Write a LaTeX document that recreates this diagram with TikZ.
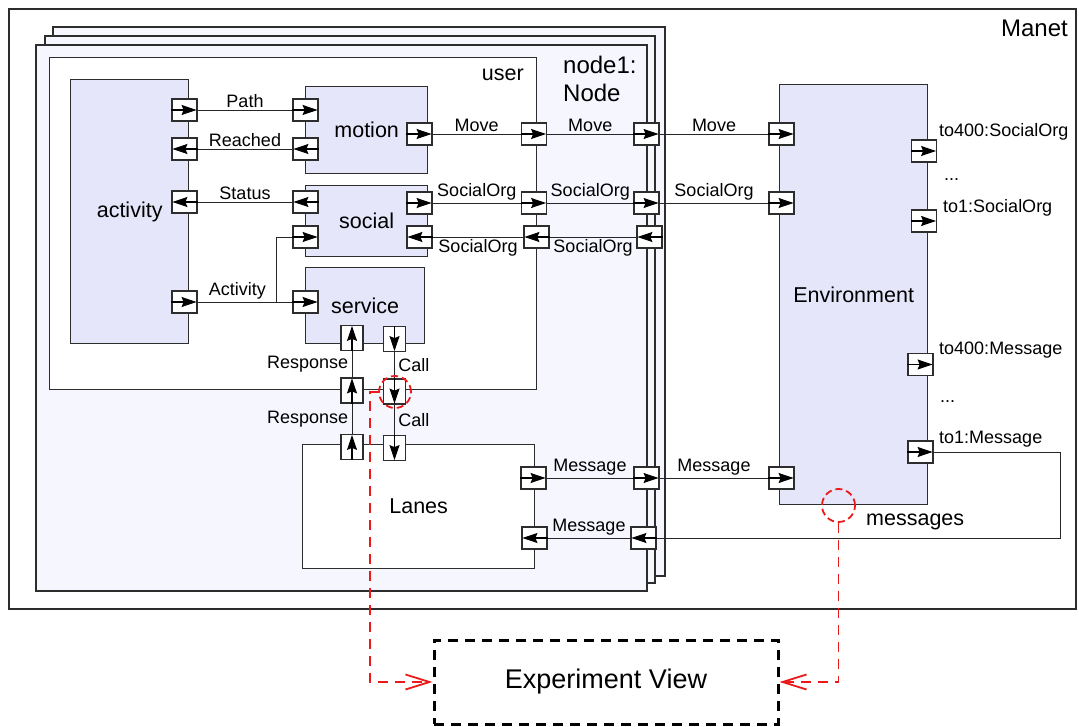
\documentclass[tikz,border=0pt]{standalone}
\usepackage{fontspec}
\setmainfont{Liberation Sans}
\usetikzlibrary{arrows.meta}
\definecolor{boxfill}{RGB}{230,230,250}
\definecolor{nodefill}{RGB}{246,246,255}
\definecolor{edgegray}{RGB}{45,45,45}
\definecolor{markred}{RGB}{235,25,25}
\begin{document}
\begin{tikzpicture}[x=1pt, y=-1pt, font=\fontsize{18}{20}\selectfont]
	\useasboundingbox (0,0) rectangle (1079,727);
	\tikzset{
		blk/.style={draw=edgegray, line width=1.3pt, fill=boxfill, anchor=north west, inner sep=0pt, font=\fontsize{21.5}{24}\selectfont},
		porttip/.style={draw=black, line width=1.1pt, shorten >=1pt, -{Stealth[length=15pt,width=10pt,inset=2pt]}},
		port/.style={draw=edgegray, fill=white, line width=1.2pt, inner sep=0pt, minimum width=25pt, minimum height=22pt},
		vport/.style={port, minimum width=22pt, minimum height=25pt},
		wire/.style={draw=black!85, line width=0.9pt},
		lbl/.style={inner sep=2pt},
		side/.style={anchor=base west, inner sep=0pt},
		redmark/.style={circle, draw=markred, line width=1.8pt, dash pattern=on 7pt off 4pt, inner sep=0pt},
		redlink/.style={draw=markred, line width=1.8pt, dash pattern=on 10pt off 7pt, -{Straight Barb[length=24pt,width=15pt]}},
		viewbox/.style={draw=black, line width=3pt, dash pattern=on 10pt off 7pt, minimum width=344pt, minimum height=84pt, font=\fontsize{27}{30}\selectfont}
	}
	\draw[edgegray, line width=1.2pt] (9,9) rectangle (1076,609);
	\node[anchor=east, inner sep=0pt, font=\fontsize{24}{28}\selectfont] (manetName) at (1068,28) {Manet};
	\draw[edgegray, line width=1.2pt, fill=nodefill] (53,27) rectangle (665,576);
	\draw[edgegray, line width=1.2pt, fill=nodefill] (45,36) rectangle (655,583);
	\draw[edgegray, line width=1.2pt, fill=nodefill] (36,45) rectangle (647,591);
	\node[anchor=north west, align=left, inner sep=0pt, font=\fontsize{24}{28}\selectfont] (nodeName) at (563,56) {node1:\\Node};
	\node[blk, fill=white, minimum width=487pt, minimum height=332pt] (user) at (49,57) {};
	\node[anchor=east, inner sep=0pt, font=\fontsize{21.5}{24}\selectfont] (userName) at (524,75) {user};
	\node[blk, minimum width=118pt, minimum height=264pt] (activity) at (70,79) {activity};
	\node[blk, minimum width=122pt, minimum height=87pt] (motion) at (305,86) {motion};
	\node[blk, minimum width=122pt, minimum height=71pt] (social) at (305,185) {social};
	\node[blk, minimum width=119pt, minimum height=76pt] (service) at (305,267) {service};
	\node[blk, fill=white, minimum width=232pt, minimum height=124pt] (lanes) at (302,444) {Lanes};
	\node[blk, minimum width=148pt, minimum height=420pt] (env) at (779,84) {Environment};

	\node[port] (actPath) at (184.5,110) {};
	\node[port] (actReached) at (184.5,149) {};
	\node[port] (actStatus) at (184.5,202) {};
	\node[port] (actAct) at (184.5,302) {};
	\node[port] (motPath) at (305.5,110) {};
	\node[port] (motReached) at (305.5,149) {};
	\node[port] (motMove) at (419.5,134) {};
	\node[port] (socStatus) at (305.5,202) {};
	\node[port] (socAct) at (305.5,237) {};
	\node[port] (socOut) at (419.5,203) {};
	\node[port] (socIn) at (419.5,237) {};
	\node[port] (srvAct) at (305.5,302) {};
	\node[vport] (srvResp) at (352,338) {};
	\node[vport] (srvCall) at (394.5,339) {};
	\node[port] (usrMove) at (534,134) {};
	\node[port] (usrSocOut) at (534,203) {};
	\node[port] (usrSocIn) at (536.5,237) {};
	\node[vport] (usrResp) at (352,390.5) {};
	\node[vport] (usrCall) at (394.5,391.5) {};
	\node[vport] (lanResp) at (352,447) {};
	\node[vport] (lanCall) at (394.5,448) {};
	\node[port] (lanMsgOut) at (533.5,478) {};
	\node[port] (lanMsgIn) at (534.5,538) {};
	\node[port] (nodMove) at (646.5,134) {};
	\node[port] (nodSocOut) at (646.5,203) {};
	\node[port] (nodSocIn) at (649.5,237) {};
	\node[port] (nodMsgOut) at (646.5,478) {};
	\node[port] (nodMsgIn) at (643.5,538) {};
	\node[port] (envMove) at (781.5,134) {};
	\node[port] (envSoc) at (781.5,203) {};
	\node[port] (envMsg) at (781.5,478) {};
	\node[port] (envSoc400) at (924,151) {};
	\node[port] (envSoc1) at (924,221) {};
	\node[port] (envMsg400) at (920.5,364.5) {};
	\node[port] (envMsg1) at (920.5,452) {};

	\foreach \p in {actPath, actAct, motPath, motMove, socAct, socOut, srvAct, usrMove, usrSocOut, lanMsgOut, nodMove, nodSocOut, nodMsgOut, envMove, envSoc, envMsg, envSoc400, envSoc1, envMsg400, envMsg1}
		\draw[porttip] (\p.west) -- (\p.east);
	\foreach \p in {actReached, actStatus, motReached, socStatus, socIn, usrSocIn, lanMsgIn, nodSocIn, nodMsgIn}
		\draw[porttip] (\p.east) -- (\p.west);
	\foreach \p in {srvResp, usrResp, lanResp}
		\draw[porttip] (\p.south) -- (\p.north);
	\foreach \p in {srvCall, usrCall, lanCall}
		\draw[porttip] (\p.north) -- (\p.south);

	\draw[wire] (actPath.east) -- node[lbl, above] {Path} (motPath.west);
	\draw[wire] (motReached.west) -- node[lbl, above] {Reached} (actReached.east);
	\draw[wire] (socStatus.west) -- node[lbl, above] {Status} (actStatus.east);
	\draw[wire] (actAct.east) -- node[lbl, above, pos=0.42] {Activity} (srvAct.west);
	\coordinate (actFork) at (276,302);
	\draw[wire] (actFork) |- (socAct.west);
	\draw[wire] (motMove.east) -- node[lbl, above] {Move} (usrMove.west);
	\draw[wire] (usrMove.east) -- node[lbl, above] {Move} (nodMove.west);
	\draw[wire] (nodMove.east) -- node[lbl, above] {Move} (envMove.west);
	\draw[wire] (socOut.east) -- node[lbl, above] {SocialOrg} (usrSocOut.west);
	\draw[wire] (usrSocOut.east) -- node[lbl, above] {SocialOrg} (nodSocOut.west);
	\draw[wire] (nodSocOut.east) -- node[lbl, above] {SocialOrg} (envSoc.west);
	\draw[wire] (nodSocIn.west) -- node[lbl, below] {SocialOrg} (usrSocIn.east);
	\draw[wire] (usrSocIn.west) -- node[lbl, below] {SocialOrg} (socIn.east);
	\draw[wire] (usrResp.north) -- node[left] {Response} (srvResp.south);
	\draw[wire] (lanResp.north) -- node[left] {Response} (usrResp.south);
	\draw[wire] (srvCall.south) -- node[right] {Call} (usrCall.north);
	\draw[wire] (usrCall.south) -- node[right] {Call} (lanCall.north);
	\draw[wire] (lanMsgOut.east) -- node[lbl, above] {Message} (nodMsgOut.west);
	\draw[wire] (nodMsgOut.east) -- node[lbl, above] {Message} (envMsg.west);
	\coordinate (loopCorner) at (1060,538);
	\draw[wire] (envMsg1.east) -| (loopCorner) -- (nodMsgIn.east);
	\draw[wire] (nodMsgIn.west) -- node[lbl, above] {Message} (lanMsgIn.east);

	\node[side] (soc400Name) at (939,137) {to400:SocialOrg};
	\node[side] (socDots) at (944,181) {...};
	\node[side] (soc1Name) at (943,213) {to1:SocialOrg};
	\node[side] (msg400Name) at (939,355) {to400:Message};
	\node[side] (msgDots) at (940,402) {...};
	\node[side] (msg1Name) at (939,443) {to1:Message};
	\node[side, font=\fontsize{21.5}{24}\selectfont] (msgsName) at (866,525) {messages};

	\node[viewbox] (expView) at (606,682) {Experiment View};
	\node[redmark, minimum size=32pt] (callMark) at (395,392) {};
	\node[redmark, minimum size=33pt] (msgMark) at (838.5,505.5) {};
	\draw[redlink] (callMark.west) -- ++(-8,0) |- (expView.west);
	\draw[redlink] (msgMark.south) |- (expView.east);
\end{tikzpicture}
\end{document}
